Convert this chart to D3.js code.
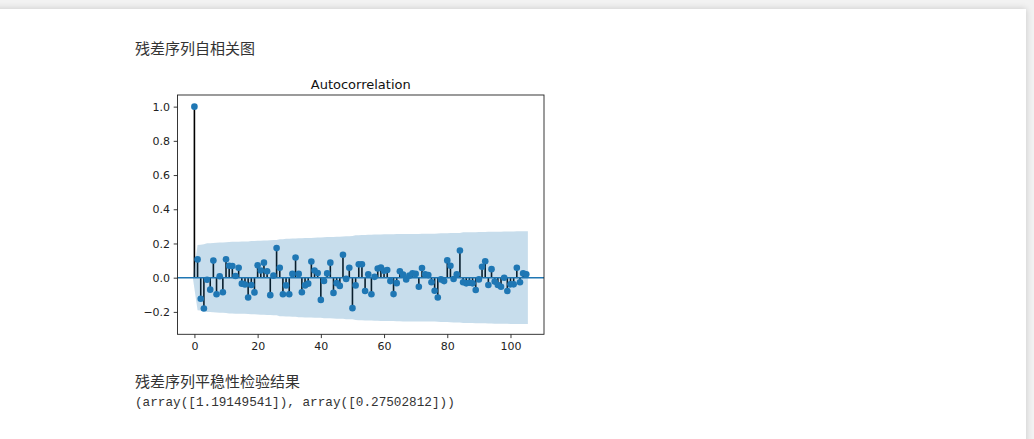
<!DOCTYPE html>
<html>
<head>
<meta charset="utf-8">
<script src="https://cdn.jsdelivr.net/npm/d3@7"></script>
<style>
  html, body { margin: 0; padding: 0; width: 1034px; height: 439px; overflow: hidden; background: #f2f2f2; }
  #card { position: absolute; left: -20px; top: 9px; width: 1046px; height: 470px; background: #fff;
          box-shadow: 0 0 7px rgba(0,0,0,0.18); }
  svg { position: absolute; left: 0; top: 0; }
</style>
</head>
<body>
<div id="card"></div>
<svg id="chart" width="1034" height="439"></svg>
<script>
// Sample autocorrelation of the model residuals, lags 0..105
const acfValues = [
  1.0, 0.107, -0.123, -0.18, -0.012, -0.07, 0.10, -0.097, 0.008, -0.085,
  0.108, 0.07, 0.068, 0.01, 0.058, -0.035, -0.04, -0.116, -0.043, -0.086,
  0.072, 0.042, 0.088, 0.037, -0.102, 0.012, 0.173, 0.058, -0.097, -0.045,
  -0.097, 0.022, 0.118, 0.022, -0.085, -0.045, -0.035, 0.095, 0.042, 0.027,
  -0.13, -0.019, 0.025, 0.088, -0.089, -0.032, -0.048, 0.134, -0.007, 0.058,
  -0.178, -0.045, 0.078, 0.078, -0.078, 0.02, -0.097, 0.005, 0.054, 0.059,
  0.04, 0.045, -0.02, -0.096, -0.032, 0.038, 0.019, -0.01, 0.012, 0.025,
  0.022, -0.053, 0.057, 0.02, 0.015, -0.027, -0.076, -0.116, -0.01, -0.02,
  0.101, 0.07, -0.008, 0.02, 0.159, -0.027, -0.033, -0.03, -0.033, -0.072,
  -0.01, 0.064, 0.096, -0.043, 0.05, -0.023, -0.043, -0.053, 0.0, -0.078,
  -0.039, -0.039, 0.058, -0.027, 0.025, 0.02
];
const lags = acfValues.map((_, i) => i);
const nobs = 106;                       // length of the residual series
const xTicks = [0, 20, 40, 60, 80, 100];
const yTicks = [-0.2, 0.0, 0.2, 0.4, 0.6, 0.8, 1.0];
const chartTitle = "Autocorrelation";
const heading = "残差序列自相关图";
const resultHeading = "残差序列平稳性检验结果";
const resultLine = "(array([1.19149541]), array([0.27502812]))";

// 95% confidence band (Bartlett's formula), as plot_acf draws it
const halfWidth = acfValues.map((_, k) => {
  if (k === 0) return 0;
  let s = 0;
  for (let j = 1; j < k; j++) s += acfValues[j] * acfValues[j];
  return 1.96 * Math.sqrt((1 + 2 * s) / nobs);
});
const bandLags = lags.map((l, i) => i === 0 ? l - 0.5 : (i === lags.length - 1 ? l + 0.5 : l));

const svg = d3.select("#chart");
const ax = { left: 177.5, right: 544, top: 95, bottom: 334.3 };

const x = d3.scaleLinear().domain([-5.35, 110.6]).range([ax.left, ax.right]);
const y = d3.scaleLinear().domain([-0.331, 1.068]).range([ax.bottom, ax.top]);

const C0 = "#1f77b4";
const tickFont = "DejaVu Sans, sans-serif";

// headings
svg.append("text").attr("x", 135).attr("y", 54)
  .attr("font-family", "Noto Sans CJK SC, sans-serif").attr("font-size", 15)
  .attr("fill", "#333").text(heading);
svg.append("text").attr("x", 135).attr("y", 387)
  .attr("font-family", "Noto Sans CJK SC, sans-serif").attr("font-size", 15)
  .attr("fill", "#333").text(resultHeading);
svg.append("text").attr("x", 135).attr("y", 405.5)
  .attr("font-family", "Liberation Mono, monospace").attr("font-size", 12.7)
  .attr("fill", "#333").attr("xml:space", "preserve").text(resultLine);

// clip region for the axes
svg.append("defs").append("clipPath").attr("id", "axclip")
  .append("rect").attr("x", ax.left).attr("y", ax.top)
  .attr("width", ax.right - ax.left).attr("height", ax.bottom - ax.top);

const plot = svg.append("g").attr("clip-path", "url(#axclip)");

// stems
plot.append("g").selectAll("line").data(lags).join("line")
  .attr("x1", d => x(d)).attr("x2", d => x(d))
  .attr("y1", y(0)).attr("y2", d => y(acfValues[d]))
  .attr("stroke", "#000").attr("stroke-width", 1.6);

// confidence band
const area = d3.area()
  .x((d, i) => x(bandLags[i]))
  .y0((d, i) => y(-halfWidth[i]))
  .y1((d, i) => y(halfWidth[i]));
plot.append("path").datum(lags).attr("d", area)
  .attr("fill", C0).attr("fill-opacity", 0.25);

// zero line
plot.append("line")
  .attr("x1", ax.left).attr("x2", ax.right)
  .attr("y1", y(0)).attr("y2", y(0))
  .attr("stroke", C0).attr("stroke-width", 1.6);

// markers
plot.append("g").selectAll("circle").data(lags).join("circle")
  .attr("cx", d => x(d)).attr("cy", d => y(acfValues[d]))
  .attr("r", 3.3).attr("fill", C0);

// axes
const xAxis = d3.axisBottom(x).tickValues(xTicks).tickSize(3.8).tickPadding(3.6)
  .tickFormat(d3.format("d"));
const yAxis = d3.axisLeft(y).tickValues(yTicks).tickSize(3.8).tickPadding(3.6)
  .tickFormat(d3.format(".1f"));

const gx = svg.append("g").attr("transform", `translate(0,${ax.bottom})`).call(xAxis);
const gy = svg.append("g").attr("transform", `translate(${ax.left},0)`).call(yAxis);
[gx, gy].forEach(g => {
  g.select(".domain").remove();
  g.selectAll(".tick line").attr("stroke", "#222").attr("stroke-width", 0.9);
  g.selectAll(".tick text").attr("font-family", tickFont).attr("font-size", 11).attr("fill", "#222");
});

// frame
svg.append("rect").attr("x", ax.left).attr("y", ax.top)
  .attr("width", ax.right - ax.left).attr("height", ax.bottom - ax.top)
  .attr("fill", "none").attr("stroke", "#222").attr("stroke-width", 0.9);

// title
svg.append("text").attr("x", (ax.left + ax.right) / 2).attr("y", 89)
  .attr("text-anchor", "middle").attr("font-family", tickFont).attr("font-size", 13)
  .attr("fill", "#111").text(chartTitle);
</script>
</body>
</html>
